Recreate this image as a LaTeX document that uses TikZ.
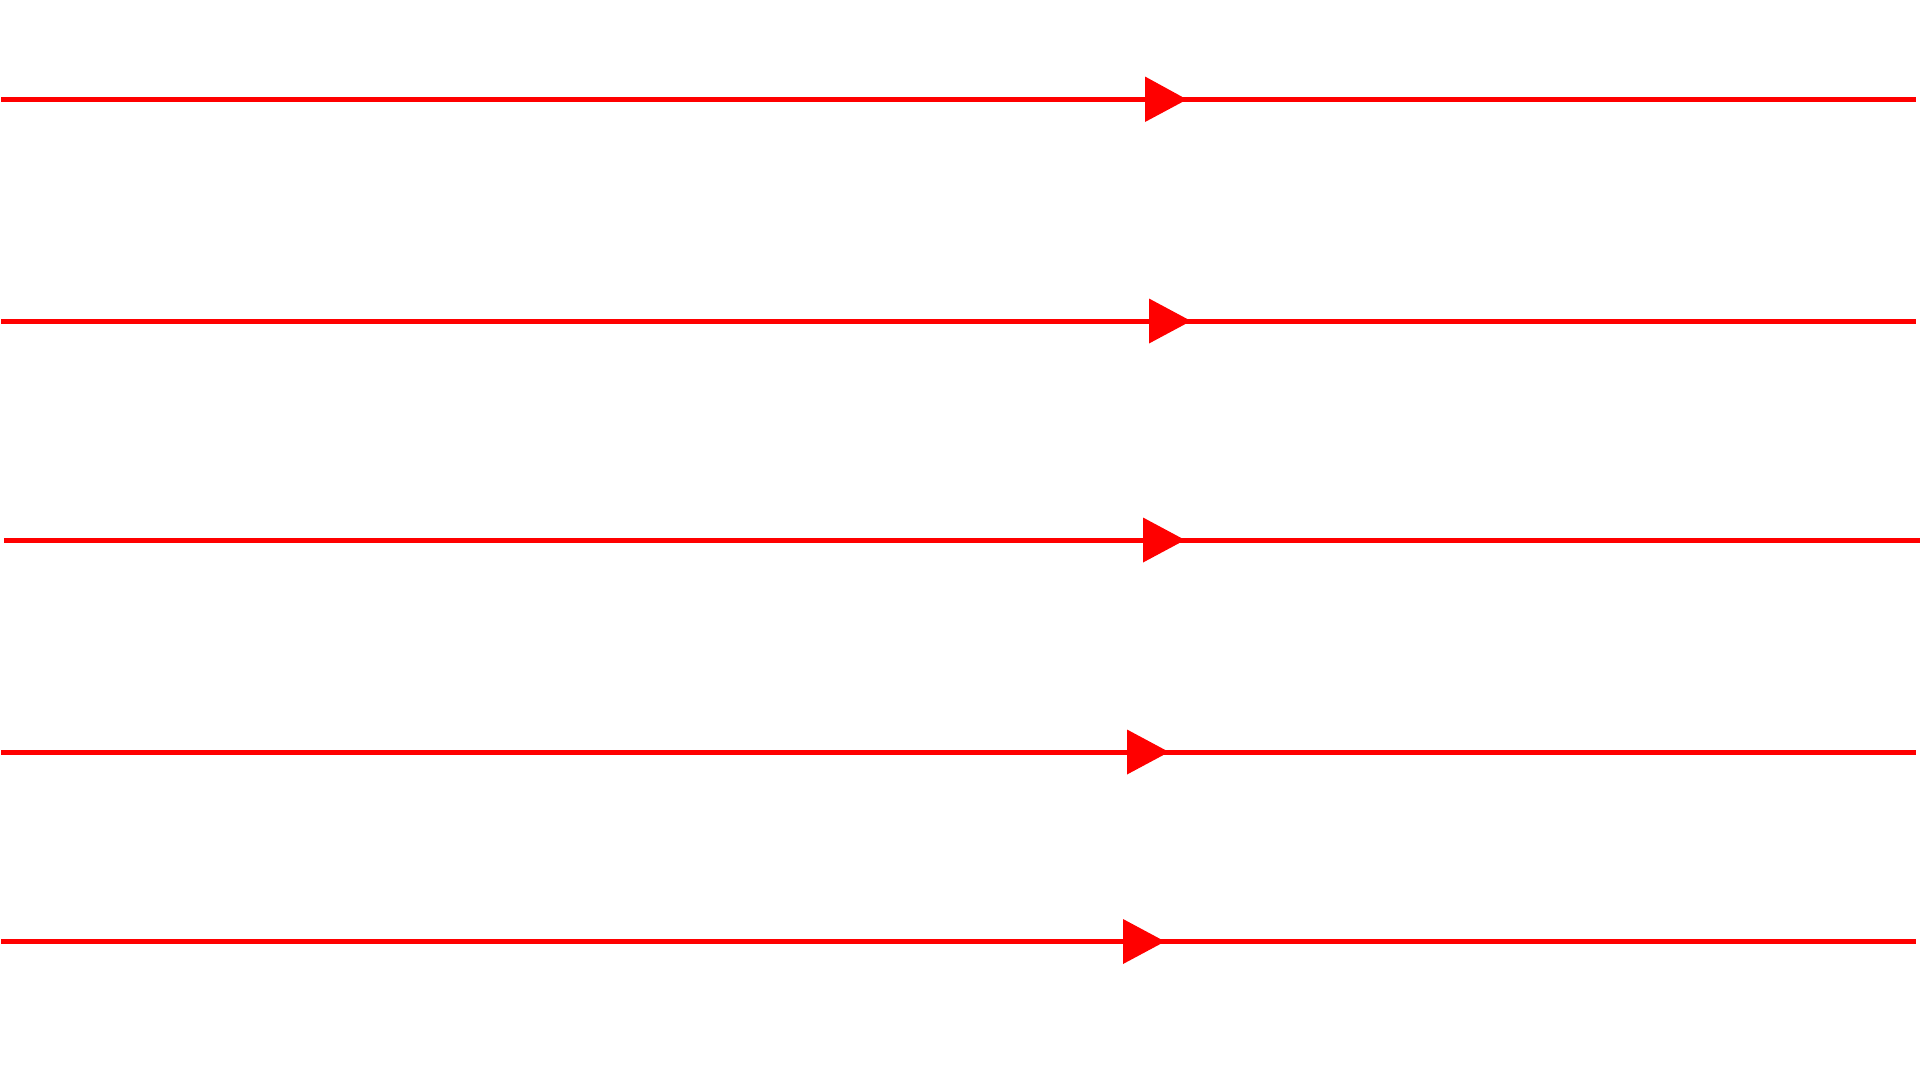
\documentclass[tikz,border=0pt]{standalone}
\begin{document}
\begin{tikzpicture}[x=1pt,y=-1pt,
  flowline/.style={draw=red,line width=5pt},
  headtri/.style={fill=red}]
\useasboundingbox (0,0) rectangle (1920,1080);
% line 1
\coordinate (a1) at (1,99.5); \coordinate (b1) at (1916,99.5);
\draw[flowline] (a1) -- (b1);
\fill[headtri] (1145,76.5) -- (1187,99.5) -- (1145,122) -- cycle;
% line 2
\coordinate (a2) at (1,321); \coordinate (b2) at (1916,321);
\draw[flowline] (a2) -- (b2);
\fill[headtri] (1149,298.5) -- (1191,321) -- (1149,343.5) -- cycle;
% line 3
\coordinate (a3) at (4,540); \coordinate (b3) at (1920,540);
\draw[flowline] (a3) -- (b3);
\fill[headtri] (1143,517.5) -- (1185,540) -- (1143,562.5) -- cycle;
% line 4
\coordinate (a4) at (1,752); \coordinate (b4) at (1916,752);
\draw[flowline] (a4) -- (b4);
\fill[headtri] (1127,729.5) -- (1169,752) -- (1127,774.5) -- cycle;
% line 5
\coordinate (a5) at (1,941.5); \coordinate (b5) at (1916,941.5);
\draw[flowline] (a5) -- (b5);
\fill[headtri] (1123,919) -- (1165,941.5) -- (1123,964) -- cycle;
\end{tikzpicture}
\end{document}
